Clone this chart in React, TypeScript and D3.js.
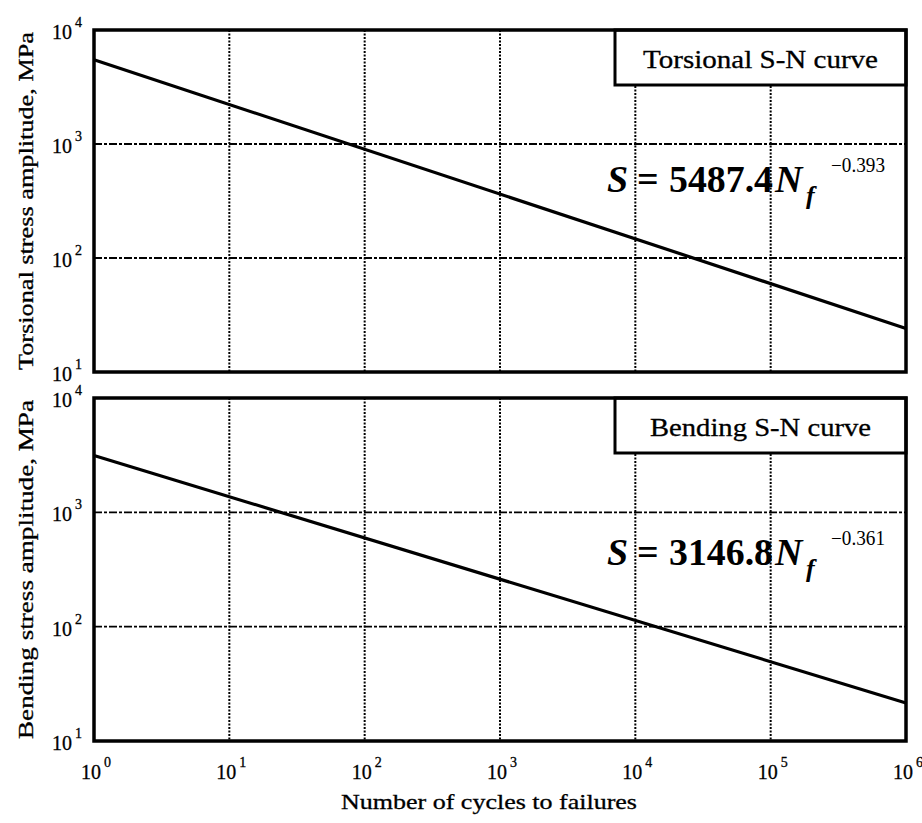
import React from "react";
import * as d3 from "d3";

// Data (straight lines in log-log space)
const cyclesN = [1, 1e6];
const torsionalS = [5487.4, 24.1];
const bendingS = [3146.8, 21.5];
const xTickExps = [0, 1, 2, 3, 4, 5, 6];
const yTickExps = [1, 2, 3, 4];

const W = 922;
const H = 823;
const left = 94;
const right = 906;

const panels = [
  {
    top: 30,
    bottom: 372,
    values: torsionalS,
    ylabel: "Torsional stress amplitude, MPa",
    legend: "Torsional S-N curve",
    legendW: 235,
    coef: "5487.4",
    expo: "\u22120.393",
    eqOff: 162,
  },
  {
    top: 398,
    bottom: 741,
    values: bendingS,
    ylabel: "Bending stress amplitude, MPa",
    legend: "Bending S-N curve",
    legendW: 221,
    coef: "3146.8",
    expo: "\u22120.361",
    eqOff: 167,
  },
];

const FONT = "'Liberation Serif', 'Times New Roman', serif";
const TXT = { fontFamily: FONT, stroke: "#000", strokeWidth: 0.3 } as any;

const x = d3.scaleLog().domain([1, 1e6]).range([left, right]);

function Panel({ p, showX }: { p: any; showX: boolean }) {
  const y = d3.scaleLog().domain([10, 1e4]).range([p.bottom, p.top]);
  const line = d3
    .line<number>()
    .x((d: number, i: number) => x(cyclesN[i]))
    .y((d: number) => y(d));
  const boxL = 615;
  const boxB = p.top + 55;
  const eqY = p.top + p.eqOff;
  return (
    <g>
      {/* grid */}
      {xTickExps.slice(1, -1).map((e) => (
        <line
          key={"vx" + e}
          x1={x(Math.pow(10, e))}
          x2={x(Math.pow(10, e))}
          y1={p.top}
          y2={p.bottom}
          stroke="#000"
          strokeWidth={2}
          strokeDasharray="2,1.5"
        />
      ))}
      {yTickExps.slice(1, -1).map((e) => (
        <line
          key={"hy" + e}
          x1={left}
          x2={right}
          y1={y(Math.pow(10, e))}
          y2={y(Math.pow(10, e))}
          stroke="#000"
          strokeWidth={1.8}
          strokeDasharray="8,2,3,2"
        />
      ))}
      {/* curve */}
      <path d={line(p.values) || ""} fill="none" stroke="#000" strokeWidth={3.2} />
      {/* legend box */}
      <rect
        x={boxL}
        y={p.top}
        width={right - boxL}
        height={boxB - p.top}
        fill="#fff"
        stroke="#000"
        strokeWidth={3}
      />
      <text
        x={(boxL + right) / 2}
        y={p.top + 38}
        textAnchor="middle"
        {...TXT}
        fontSize={25}
        textLength={p.legendW}
        lengthAdjust="spacingAndGlyphs"
      >
        {p.legend}
      </text>
      {/* equation */}
      <g fontFamily={FONT} fontWeight="bold" fill="#000">
        <text x={607} y={eqY} fontSize={38} fontStyle="italic">S</text>
        <text x={637} y={eqY} fontSize={38}>=</text>
        <text x={669} y={eqY} fontSize={38} textLength={104} lengthAdjust="spacingAndGlyphs">
          {p.coef}
        </text>
        <text x={775} y={eqY} fontSize={38} fontStyle="italic">N</text>
        <text x={806} y={eqY + 12} fontSize={26} fontStyle="italic">f</text>
        <text
          x={831}
          y={eqY - 20}
          fontSize={20}
          fontWeight="normal"
          textLength={54}
          lengthAdjust="spacingAndGlyphs"
        >
          {p.expo}
        </text>
      </g>
      {/* frame */}
      <rect
        x={left}
        y={p.top}
        width={right - left}
        height={p.bottom - p.top}
        fill="none"
        stroke="#000"
        strokeWidth={3.5}
      />
      {/* y ticks */}
      {yTickExps.map((e) => (
        <text
          key={"yt" + e}
          x={52}
          y={y(Math.pow(10, e)) + 9}
          {...TXT}
          fontSize={20}
        >
          10
          <tspan fontSize={14} dy={-12} dx={3}>
            {e}
          </tspan>
        </text>
      ))}
      {/* y label */}
      <text
        transform={`translate(33,${(p.top + p.bottom) / 2}) rotate(-90)`}
        textAnchor="middle"
        {...TXT}
        fontSize={20}
        textLength={p.bottom - p.top - 4}
        lengthAdjust="spacingAndGlyphs"
      >
        {p.ylabel}
      </text>
      {showX &&
        xTickExps.map((e) => (
          <text
            key={"xt" + e}
            x={x(Math.pow(10, e)) - 13}
            y={p.bottom + 38}
            {...TXT}
            fontSize={20}
          >
            10
            <tspan fontSize={14} dy={-12} dx={3}>
              {e}
            </tspan>
          </text>
        ))}
    </g>
  );
}

export default function App() {
  return (
    <svg
      width={W}
      height={H}
      viewBox={`0 0 ${W} ${H}`}
      style={{ position: "absolute", left: 0, top: 0, background: "#fff" }}
    >
      <rect x={0} y={0} width={W} height={H} fill="#fff" />
      {panels.map((p, i) => (
        <Panel key={i} p={p} showX={i === 1} />
      ))}
      <text
        x={489}
        y={809}
        textAnchor="middle"
        {...TXT}
        fontSize={21}
        textLength={296}
        lengthAdjust="spacingAndGlyphs"
      >
        Number of cycles to failures
      </text>
    </svg>
  );
}
